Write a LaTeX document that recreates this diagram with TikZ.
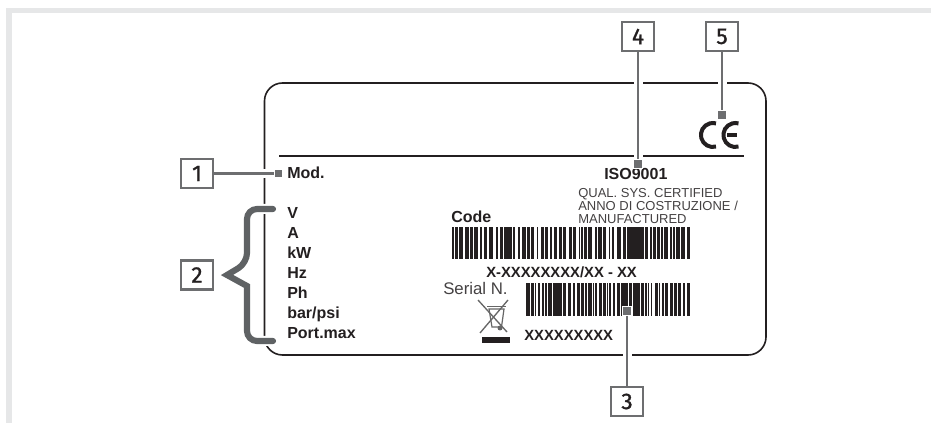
\documentclass[tikz,border=0pt]{standalone}
\usepackage{fontspec}
\setmainfont{Liberation Sans}
\newfontfamily\numfont[FakeBold=1.2]{Fira Sans}
\definecolor{frameGray}{HTML}{E6E7E8}
\definecolor{leadGray}{HTML}{6D6E70}
\definecolor{braceGray}{HTML}{5F6264}
\definecolor{inkDark}{HTML}{231F20}
\tikzset{
  numbox/.style={draw=leadGray,fill=white,line width=2pt,minimum width=24pt,minimum height=21.75pt,inner sep=0pt,text=inkDark,font=\numfont\fontsize{17}{17}\selectfont},
  marker/.style={fill=leadGray,draw=white,line width=0.9pt,minimum size=6.4pt,inner sep=0pt},
  leader/.style={leadGray,line width=1.9pt,preaction={draw=white,line width=6.75pt}},
  boldtxt/.style={anchor=base west,inner sep=0pt,text=inkDark,font=\bfseries\fontsize{12}{12}\selectfont},
  midtxt/.style={anchor=base west,inner sep=0pt,text=inkDark,font=\bfseries\fontsize{11.1}{11.1}\selectfont},
  smalltxt/.style={anchor=base west,inner sep=0pt,text=inkDark!85,font=\fontsize{9.75}{9.75}\selectfont},
  bar/.style={fill=inkDark,draw=none}
}
\begin{document}
\begin{tikzpicture}[x=0.75pt,y=-0.75pt]
  \useasboundingbox (0,0) rectangle (931,423);
  \fill[frameGray] (6,8.3) rectangle (931,13.3);
  \fill[frameGray] (6,8.3) rectangle (12,423);
  % barcodes
  \foreach \xx/\ww in {452/1.3,455.3/2.7,459/3.7,464.7/4,469.7/3.3,474/3.3,479.7/2.3,484/2.7,488.7/4,495.7/2.3,499.7/3.3,504/3.3,508/3.3,513/1.7,518/2,522/3.3,526.7/3,530.7/2.7,536.7/1.3,541.3/2.7,545.3/2.7,549.7/2.3,554/2.3,558.7/2.7,563/3,568.7/3,573.3/2.7,578.7/1.3,581/1.7,584.3/2.3,588.3/3.3,595.3/1.3,598.3/3.3,602.7/3.3,609.3/0.7,612/2,616.7/4,622.7/3.3,627.3/4,632/3.3,636/3.3,640/3.3,645/2.3,650/1.3,653.3/2.7,657.3/2,660.7/2,664/3.3,670/1.7,673.3/1.7,676/3.3,681.3/3.3,686.7/3.3}
    \fill[bar] (\xx,227) rectangle ({\xx+\ww+0.3},259);
  \foreach \xx/\ww in {526/3.3,530.7/3.3,535/1,538.3/1,542/2,545/1.7,548.3/3.3,553.3/4,558.3/3.3,562.7/3.3,568.3/2.3,572.7/2.3,577.3/2.7,580.7/2.7,585/1.7,588.3/3.3,592.5/1,595/1.7,598.7/3,602.7/2.7,606.5/1,609.3/1.3,612.7/2.3,616.7/3.3,621/1.5,623.3/4,628.7/3.3,633.3/3.3,637.3/2,640.7/2.7,645.3/1.3,648/1,650.7/1.3,654.7/2.7,658.7/1.3,661.7/1.7,665/2.3,670/2.7,674/2.7,678.3/2.3,682.7/2.3,686.7/3.3}
    \fill[bar] (\xx,283) rectangle ({\xx+\ww+0.4},315.7);
  % label texts
  \node[boldtxt] (mod) at (287,178.5) {Mod.};
  \foreach \lbl [count=\ii] in {V,A,kW,Hz,Ph,bar/psi,Port.max}
    \node[boldtxt] (rate\ii) at (287,{198.5+19.95*\ii}) {\lbl};
  \node[boldtxt] (code) at (451,222.5) {Code};
  \node[boldtxt] (iso) at (604,179.5) {ISO9001};
  \node[smalltxt] (qual) at (578,197.5) {QUAL. SYS. CERTIFIED};
  \node[smalltxt] (anno) at (578,210.5) {ANNO DI COSTRUZIONE /};
  \node[smalltxt] (manu) at (578,223.5) {MANUFACTURED};
  \node[midtxt] (xcode) at (486,277.5) {X-XXXXXXXX/XX - XX};
  \node[anchor=base west,inner sep=0pt,text=inkDark!85,font=\fontsize{12.6}{12.6}\selectfont] (serial) at (443,294.5) {Serial N.};
  \node[midtxt] (xserial) at (524,340.5) {XXXXXXXXX};
  % crossed bin
  \draw[black!60,line width=1pt] (478,300) -- (507,332) (508,300) -- (480,333);
  \draw[black!60,line width=0.9pt] (489,309) -- (504,309) -- (501.5,327) -- (492,327) -- cycle;
  \draw[black!60,line width=0.9pt] (487,306.5) -- (506,306.5);
  \fill[black!60] (500,328) circle (2.5);
  \fill[inkDark] (482,337.5) rectangle (510,343.5);
  % card
  \draw[inkDark,line width=1.2pt,rounded corners=13.5pt] (264.5,83) rectangle (766,355);
  \draw[inkDark,line width=1.2pt] (279,156) -- (744,156);
  % CE mark
  \draw[inkDark,line width=3pt] (716,146.6) arc[start angle=75,end angle=285,radius=12];
  \draw[inkDark,line width=3pt] (738.5,146.6) arc[start angle=75,end angle=285,radius=12];
  \draw[inkDark,line width=2.4pt] (727,135) -- (737,135);
  % numbered boxes
  \node[numbox] (box1) at (197,173.5) {1};
  \node[numbox] (box2) at (197,275) {2};
  \node[numbox] (box3) at (627,401.5) {3};
  \node[numbox] (box4) at (638,36.5) {4};
  \node[numbox] (box5) at (722,36.5) {5};
  \node[marker] (mark1) at (278.5,173.5) {};
  \node[marker] (mark3) at (627,311) {};
  \node[marker] (mark4) at (638,164) {};
  \node[marker] (mark5) at (722,115) {};
  \draw[leader] (box1) -- (mark1);
  \draw[leader] (box3) -- (mark3);
  \draw[leader] (box4) -- (mark4);
  \draw[leader] (box5) -- (mark5);
  \node[marker] at (mark1) {};
  \node[marker] at (mark3) {};
  \node[marker] at (mark4) {};
  \node[marker] at (mark5) {};
  \node[numbox] at (box1) {1};
  \node[numbox] at (box3) {3};
  \node[numbox] at (box4) {4};
  \node[numbox] at (box5) {5};
  % brace
  \draw[braceGray,line width=4.6pt,line cap=round,line join=miter,rounded corners=7.5pt,preaction={draw=white,line width=7.5pt}]
    (273,209) -- (247,209) -- (247,263) [sharp corners] -- (227,275) -- (247,286) [rounded corners=7.5pt] -- (247,341) -- (273,341);
\end{tikzpicture}
\end{document}
